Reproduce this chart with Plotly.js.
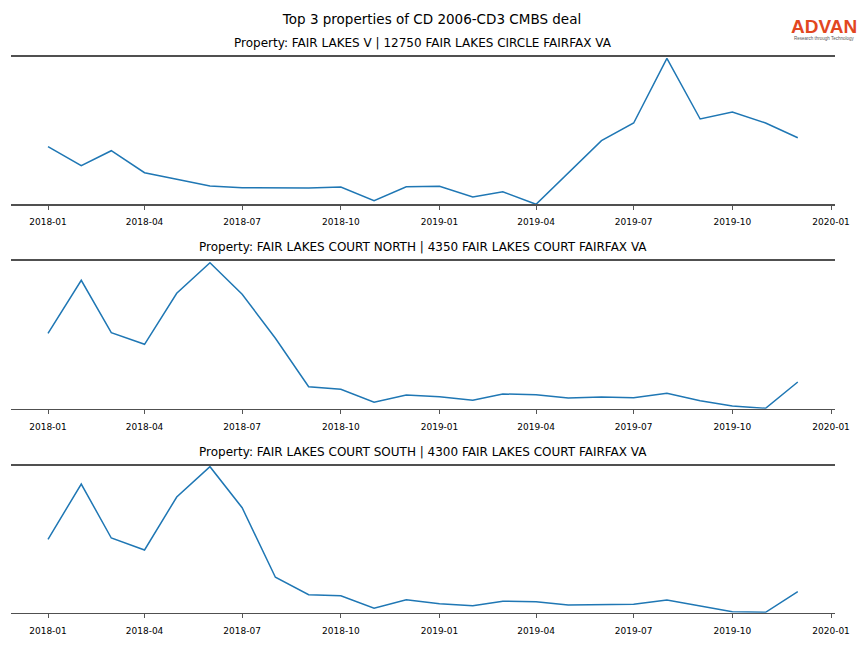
<!DOCTYPE html>
<html>
<head>
<meta charset="utf-8">
<script src="https://cdn.plot.ly/plotly-3.0.1.min.js"></script>
<style>html,body{margin:0;padding:0;background:#fff;}#chart{width:864px;height:648px;}</style>
</head>
<body>
<div id="chart"></div>
<script>
const months = ["2018-01-01","2018-02-01","2018-03-01","2018-04-01","2018-05-01","2018-06-01","2018-07-01","2018-08-01","2018-09-01","2018-10-01","2018-11-01","2018-12-01","2019-01-01","2019-02-01","2019-03-01","2019-04-01","2019-05-01","2019-06-01","2019-07-01","2019-08-01","2019-09-01","2019-10-01","2019-11-01","2019-12-01"];
const fairLakesV = [57.6, 38.6, 53.6, 31.6, 25, 18.3, 16.6, 16.6, 16.3, 17.3, 3.6, 17.6, 18, 7.3, 12.6, 0, 31, 63.6, 81.3, 146, 85.3, 92.3, 81.3, 66.6];
const fairLakesNorth = [75.4, 128.4, 76, 64.4, 115.4, 146, 114.4, 70.4, 22, 19.4, 6.4, 13.7, 12, 8.4, 14.7, 14, 10.7, 11.7, 11, 15.4, 8, 2.7, 0.4, 26.7];
const fairLakesSouth = [73.4, 128.7, 74.7, 62.7, 115.7, 146, 105, 35.4, 18, 17, 4.4, 13, 9, 7, 11.4, 11, 7.7, 8.4, 8.4, 12.7, 7, 1, 0.4, 21];
const tickVals = ["2018-01-01","2018-04-01","2018-07-01","2018-10-01","2019-01-01","2019-04-01","2019-07-01","2019-10-01","2020-01-01"];
const tickText = ["2018-01","2018-04","2018-07","2018-10","2019-01","2019-04","2019-07","2019-10","2020-01"];
const subtitles = [
  "Property: FAIR LAKES V | 12750 FAIR LAKES CIRCLE FAIRFAX VA",
  "Property: FAIR LAKES COURT NORTH | 4350 FAIR LAKES COURT FAIRFAX VA",
  "Property: FAIR LAKES COURT SOUTH | 4300 FAIR LAKES COURT FAIRFAX VA"
];
const mainTitle = "Top 3 properties of CD 2006-CD3 CMBS deal";

const series = [fairLakesV, fairLakesNorth, fairLakesSouth];
const yRanges = [[0, 147.6], [0, 148], [0, 147]];
const domains = [[0.6847, 0.9125], [0.3693, 0.5977], [0.0545, 0.2813]];
const FONT = "DejaVu Sans, sans-serif";

const traces = series.map((s, i) => ({
  x: months, y: s, type: "scatter", mode: "lines",
  line: {color: "#1f77b4", width: 1.5},
  xaxis: i === 0 ? "x" : "x" + (i + 1),
  yaxis: i === 0 ? "y" : "y" + (i + 1),
  showlegend: false, hoverinfo: "x+y"
}));

const layout = {
  width: 864, height: 648,
  margin: {l: 11, r: 29, t: 0, b: 0},
  paper_bgcolor: "#fff", plot_bgcolor: "#fff",
  font: {family: FONT, color: "#000"},
  title: {text: mainTitle, x: 0.5, xanchor: "center", y: 1 - 19/648, yanchor: "middle", yref: "container", font: {size: 13.5, family: FONT, color: "#000"}},
  annotations: [],
  showlegend: false
};

series.forEach((s, i) => {
  const xa = i === 0 ? "xaxis" : "xaxis" + (i + 1);
  const ya = i === 0 ? "yaxis" : "yaxis" + (i + 1);
  layout[xa] = {
    type: "date",
    range: ["2017-11-27 12:00", "2020-01-04 17:00"],
    domain: [0, 1],
    anchor: i === 0 ? "y" : "y" + (i + 1),
    tickmode: "array", tickvals: tickVals, ticktext: tickText,
    ticks: "outside", ticklen: 3.5, tickwidth: 1, tickcolor: "#555",
    ticklabelstandoff: 5,
    tickfont: {size: 9, family: FONT, color: "#000"},
    showline: true, mirror: true, linecolor: "#505050", linewidth: 1.8,
    showgrid: false, zeroline: false
  };
  layout[ya] = {
    range: yRanges[i], domain: domains[i],
    anchor: i === 0 ? "x" : "x" + (i + 1),
    showticklabels: false, ticks: "", showgrid: false, zeroline: false, showline: false
  };
  layout.annotations.push({
    text: subtitles[i], xref: "paper", yref: "paper",
    x: 0.5, y: domains[i][1] + 14/648, xanchor: "center", yanchor: "middle",
    showarrow: false, font: {size: 12, family: FONT, color: "#000"}
  });
});

// logo
layout.annotations.push({
  text: "<b>ADVAN</b>", xref: "paper", yref: "paper",
  x: (824 - 11) / 824, y: 1 - 27/648, xanchor: "center", yanchor: "middle",
  showarrow: false, font: {size: 19, family: "Liberation Sans, Arial, sans-serif", color: "#e2471f"}
});
layout.annotations.push({
  text: "Research through Technology", xref: "paper", yref: "paper",
  x: (824 - 11) / 824, y: 1 - 38/648, xanchor: "center", yanchor: "middle",
  showarrow: false, font: {size: 4.5, family: "Liberation Sans, Arial, sans-serif", color: "#555"}
});

Plotly.newPlot("chart", traces, layout, {displayModeBar: false, staticPlot: true});
</script>
</body>
</html>
